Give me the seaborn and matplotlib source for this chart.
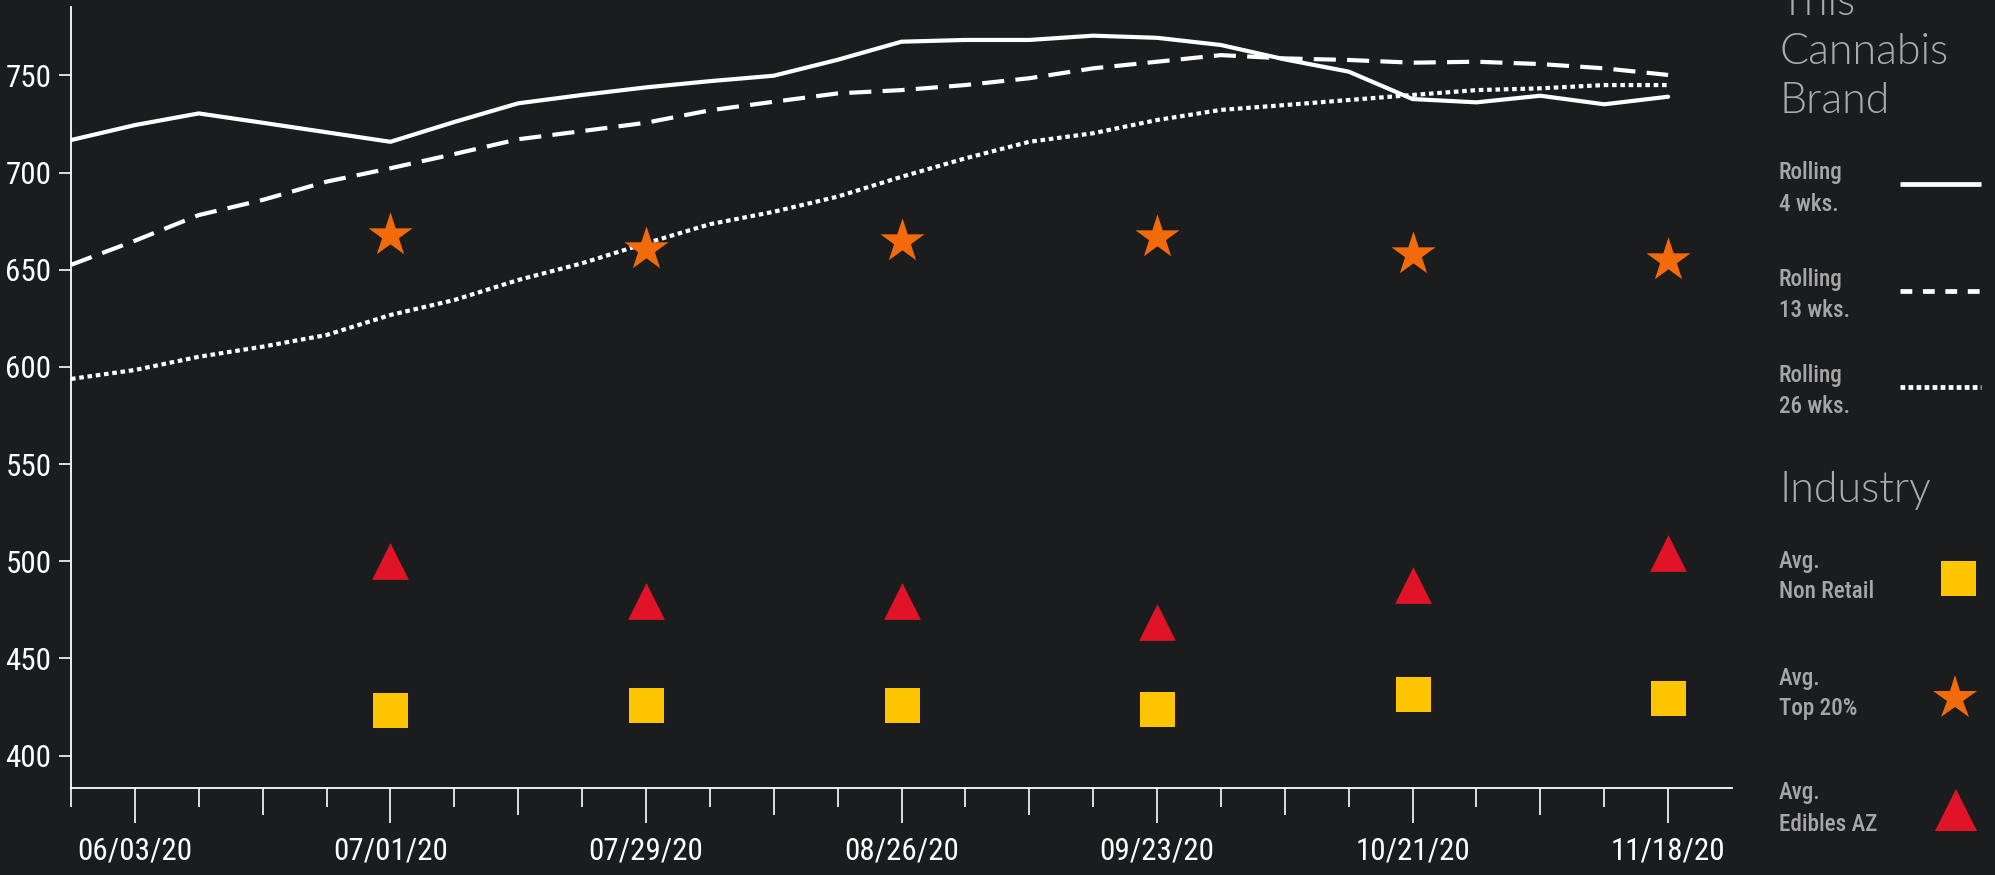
import os
import matplotlib
matplotlib.use("Agg")
import matplotlib.pyplot as plt
import matplotlib.dates as mdates
from matplotlib.lines import Line2D
from matplotlib import font_manager as fm
from matplotlib.textpath import TextToPath
import pandas as pd
import seaborn as sns

# ---------------- data ----------------
week_dates = ["2020-05-27", "2020-06-03", "2020-06-10", "2020-06-17", "2020-06-24",
              "2020-07-01", "2020-07-08", "2020-07-15", "2020-07-22", "2020-07-29",
              "2020-08-05", "2020-08-12", "2020-08-19", "2020-08-26", "2020-09-02",
              "2020-09-09", "2020-09-16", "2020-09-23", "2020-09-30", "2020-10-07",
              "2020-10-14", "2020-10-21", "2020-10-28", "2020-11-04", "2020-11-11",
              "2020-11-18"]
axis_end_date = "2020-11-25"

rolling_4 = [716.7, 724.4, 730.4, 725.6, 720.7, 715.8, 726.0, 735.6, 739.9, 743.8,
             747.0, 749.8, 758.0, 767.3, 768.2, 768.2, 770.4, 769.3, 765.6, 758.2,
             751.9, 737.8, 736.1, 739.5, 735.1, 739.0]
rolling_13 = [652.5, 664.9, 678.1, 685.9, 695.3, 702.2, 709.5, 717.1, 721.3, 725.6,
              732.0, 736.4, 740.7, 742.4, 745.0, 748.5, 753.6, 757.0, 760.4, 758.7,
              757.9, 756.5, 757.0, 755.8, 753.6, 750.2]
rolling_26 = [593.8, 598.4, 605.2, 610.4, 616.4, 626.7, 634.4, 644.7, 653.3, 663.6,
              673.4, 679.8, 687.6, 697.8, 707.3, 715.8, 720.2, 727.0, 732.2, 734.7,
              737.3, 739.9, 742.4, 743.3, 745.0, 745.0]

marker_dates = ["2020-07-01", "2020-07-29", "2020-08-26", "2020-09-23", "2020-10-21", "2020-11-18"]
avg_non_retail = [423.7, 425.8, 426.3, 423.8, 431.5, 429.4]
avg_top20 = [667.7, 660.9, 665.0, 667.0, 657.9, 654.8]
avg_edibles_az = [500.3, 479.5, 479.4, 468.6, 487.7, 504.5]

x_tick_labels = ["06/03/20", "07/01/20", "07/29/20", "08/26/20", "09/23/20", "10/21/20", "11/18/20"]
label_tick_dates = ["2020-06-03", "2020-07-01", "2020-07-29", "2020-08-26", "2020-09-23", "2020-10-21", "2020-11-18"]
mid_tick_dates = ["2020-06-17", "2020-07-15", "2020-08-12", "2020-09-09", "2020-10-07", "2020-11-04"]
short_tick_dates = ["2020-05-27", "2020-06-10", "2020-06-24", "2020-07-08", "2020-07-22",
                    "2020-08-05", "2020-08-19", "2020-09-02", "2020-09-16", "2020-09-30",
                    "2020-10-14", "2020-10-28", "2020-11-11"]
y_ticks = [400, 450, 500, 550, 600, 650, 700, 750]

series_names = ["Rolling 4 wks.", "Rolling 13 wks.", "Rolling 26 wks."]

# ---------------- style ----------------
BG = "#1b1c1e"
ORANGE = "#f26a0a"
RED = "#e01426"
YELLOW = "#ffc600"
GRAY = "#a6a6a6"

sns.set_theme(style="dark", rc={"axes.facecolor": BG, "figure.facecolor": BG})

all_files = fm.findSystemFonts()
def find_file(patterns):
    for pat in patterns:
        for p in all_files:
            if os.path.basename(p).lower() == pat:
                return p
    return None

cond_path = find_file(["liberationsansnarrow-regular.ttf", "robotocondensed-regular.ttf",
                       "notosans-condensed.ttf", "opensans_condensed-regular.ttf",
                       "dejavusanscondensed.ttf"])
if cond_path is None:
    for p in all_files:
        b = os.path.basename(p).lower()
        if ("condensed" in b or "narrow" in b) and "bold" not in b and "italic" not in b and "oblique" not in b:
            cond_path = p
            break
cond_med_path = find_file(["robotocondensed-medium.ttf", "notosans-condensedmedium.ttf"]) or cond_path
light_path = find_file(["lato-light.ttf"])

def prop_from(path, size, family="DejaVu Sans"):
    if path:
        return fm.FontProperties(fname=path, size=size)
    return fm.FontProperties(family=family, size=size)

ttp = TextToPath()
def fit_size(path, text, nominal, target_px):
    w, h, d = ttp.get_text_width_height_descent(text, prop_from(path, nominal), ismath=False)
    w_px = w * 100 / 72
    return nominal * target_px / w_px if w_px > target_px else nominal

W, H, DPI = 1995, 875, 100
fig = plt.figure(figsize=(W / DPI, H / DPI), dpi=DPI, facecolor=BG)
ax = fig.add_axes([71 / W, 1 - 787.5 / H, (1732 - 71) / W, (787.5 - 7.3) / H])
ax.set_facecolor(BG)

dates = pd.to_datetime(week_dates)
df = pd.DataFrame({
    "date": list(dates) * 3,
    "value": rolling_4 + rolling_13 + rolling_26,
    "series": sum([[n] * len(dates) for n in series_names], []),
})
sns.lineplot(data=df, x="date", y="value", style="series", color="white",
             dashes={series_names[0]: "", series_names[1]: (5.3, 2.7), series_names[2]: (1.1, 0.9)},
             linewidth=3.0, legend=False, ax=ax, estimator=None)

mk_dates = pd.to_datetime(marker_dates)
sns.scatterplot(x=mk_dates, y=avg_top20, marker="*", s=33.4 ** 2, color=ORANGE, linewidth=0, ax=ax, legend=False, zorder=5)
sns.scatterplot(x=mk_dates, y=avg_edibles_az, marker="^", s=26.4 ** 2, color=RED, linewidth=0, ax=ax, legend=False, zorder=5)
sns.scatterplot(x=mk_dates, y=avg_non_retail, marker="s", s=25.2 ** 2, color=YELLOW, linewidth=0, ax=ax, legend=False, zorder=5)

ax.set_xlim(mdates.date2num(pd.Timestamp(week_dates[0])), mdates.date2num(pd.Timestamp(axis_end_date)))
ax.set_ylim(383.6, 785)
ax.set_xlabel("")
ax.set_ylabel("")
ax.grid(False)

for s in ["top", "right"]:
    ax.spines[s].set_visible(False)
for s in ["left", "bottom"]:
    ax.spines[s].set_color("white")
    ax.spines[s].set_linewidth(1.3)

tick_size = min(fit_size(cond_path, "06/03/20", 25.0, 118), fit_size(cond_path, "750", 25.0, 46))
tick_prop = prop_from(cond_path, tick_size)

ax.set_yticks(y_ticks)
ax.set_yticklabels([str(v) for v in y_ticks])
ax.tick_params(axis="y", colors="white", length=8.6, width=1.2, pad=5.5, left=True)

ax.set_xticks(mdates.date2num(pd.to_datetime(label_tick_dates)))
ax.set_xticklabels(x_tick_labels)
ax.set_xticks(mdates.date2num(pd.to_datetime(short_tick_dates)), minor=True)
ax.tick_params(axis="x", which="major", colors="white", length=25.4, width=1.2, pad=10, bottom=True)
ax.tick_params(axis="x", which="minor", colors="white", length=13.5, width=1.2, bottom=True)
for lab in ax.get_xticklabels() + ax.get_yticklabels():
    lab.set_fontproperties(tick_prop)
    lab.set_color("white")

sec = ax.secondary_xaxis("bottom")
sec.set_xticks(mdates.date2num(pd.to_datetime(mid_tick_dates)))
sec.tick_params(axis="x", colors="white", length=19.4, width=1.2, labelbottom=False)
sec.spines["bottom"].set_visible(False)

# ---------------- legend panel ----------------
def fx(px):
    return px / W

def fy(py):
    return 1 - py / H

if light_path:
    head_prop = fm.FontProperties(fname=light_path, size=31)
else:
    head_prop = fm.FontProperties(family=["Lato", "DejaVu Sans"], size=31, weight="light")
for txt, base in [("This", 15.3), ("Cannabis", 64.0), ("Brand", 112.7), ("Industry", 501.7)]:
    fig.text(fx(1779), fy(base), txt, color="#ababab", fontproperties=head_prop,
             va="baseline", ha="left")

leg_size = fit_size(cond_med_path, "Rolling", 20.0, 64)
leg_prop = prop_from(cond_med_path, leg_size)
items = [
    ("Rolling", "4 wks.", 179.3, 211.0),
    ("Rolling", "13 wks.", 286.0, 316.7),
    ("Rolling", "26 wks.", 381.7, 412.7),
    ("Avg.", "Non Retail", 568.3, 597.7),
    ("Avg.", "Top 20%", 685.0, 715.0),
    ("Avg.", "Edibles AZ", 799.3, 830.7),
]
for l1, l2, b1, b2 in items:
    fig.text(fx(1779), fy(b1), l1, color=GRAY, fontproperties=leg_prop, va="baseline", ha="left")
    fig.text(fx(1779), fy(b2), l2, color=GRAY, fontproperties=leg_prop, va="baseline", ha="left")

for yy, ls in [(184.3, "-"), (290.7, (0, (2.5, 2.25))), (386.7, (0, (1.0, 0.7)))]:
    fig.add_artist(Line2D([fx(1900), fx(1981)], [fy(yy), fy(yy)], transform=fig.transFigure,
                          color="white", linewidth=3.4, linestyle=ls, solid_capstyle="butt", dash_capstyle="butt"))

fig.add_artist(Line2D([fx(1957.5)], [fy(577.5)], transform=fig.transFigure, marker="s",
                      markersize=25.2, color=YELLOW, markeredgewidth=0, linestyle="none"))
fig.add_artist(Line2D([fx(1955)], [fy(698.3)], transform=fig.transFigure, marker="*",
                      markersize=33.6, color=ORANGE, markeredgewidth=0, linestyle="none"))
fig.add_artist(Line2D([fx(1955.8)], [fy(810)], transform=fig.transFigure, marker="^",
                      markersize=30, color=RED, markeredgewidth=0, linestyle="none"))

fig.savefig("out.png", dpi=DPI, facecolor=BG)
